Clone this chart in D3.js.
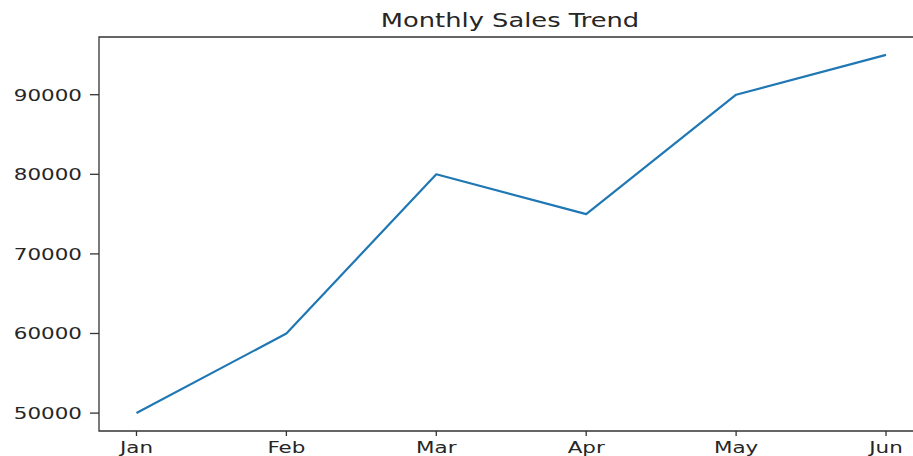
<!DOCTYPE html>
<html>
<head>
<meta charset="utf-8">
<script src="https://cdn.jsdelivr.net/npm/d3@7"></script>
<style>
  body { margin: 0; background: #fff; }
  svg { display: block; }
  text { font-family: "DejaVu Sans", sans-serif; fill: #262626; }
</style>
</head>
<body>
<div class="chart"></div>
<script>
var months = ["Jan", "Feb", "Mar", "Apr", "May", "Jun"];
var sales = [50000, 60000, 80000, 75000, 90000, 95000];
var yTicks = [50000, 60000, 70000, 80000, 90000];

var width = 913, height = 456;
var sx = 1.3; // picture is stretched sideways
var plotLeft = 99, plotTop = 37, plotBottom = 431;

var svg = d3.select('.chart')
    .append("svg")
    .attr("width", width)
    .attr("height", height);

var x = d3.scaleLinear()
    .domain([-0.25, 5.25])
    .range([plotLeft, 923.5]);

var y = d3.scaleLinear()
    .domain([47750, 97250])
    .range([plotBottom, plotTop]);

// spines
svg.append("path")
    .attr("d", "M" + x.range()[1] + "," + plotTop + "H" + plotLeft + "V" + plotBottom + "H" + x.range()[1])
    .attr("fill", "none")
    .attr("stroke", "#333")
    .attr("stroke-width", 1.3);

// y ticks
var yg = svg.append("g");
yTicks.forEach(function (t) {
    yg.append("line")
        .attr("x1", plotLeft - 9).attr("x2", plotLeft)
        .attr("y1", y(t)).attr("y2", y(t))
        .attr("stroke", "#333").attr("stroke-width", 1.3);
    yg.append("text")
        .attr("transform", "translate(" + (plotLeft - 17) + "," + y(t) + ") scale(" + sx + ",1)")
        .attr("text-anchor", "end")
        .attr("dy", "0.36em")
        .attr("font-size", 16.5)
        .text(t);
});

// x ticks
var xg = svg.append("g");
months.forEach(function (m, i) {
    xg.append("line")
        .attr("x1", x(i)).attr("x2", x(i))
        .attr("y1", plotBottom).attr("y2", plotBottom + 5)
        .attr("stroke", "#333").attr("stroke-width", 1.3);
    xg.append("text")
        .attr("transform", "translate(" + x(i) + "," + (plotBottom + 22) + ") scale(" + sx + ",1)")
        .attr("text-anchor", "middle")
        .attr("font-size", 16.5)
        .text(m);
});

// line
var line = d3.line()
    .x(function (d, i) { return x(i); })
    .y(function (d) { return y(d); });

svg.append("path")
    .datum(sales)
    .attr("d", line)
    .attr("fill", "none")
    .attr("stroke", "#1f77b4")
    .attr("stroke-width", 2.2)
    .attr("stroke-linejoin", "round");

// title
svg.append("text")
    .attr("transform", "translate(" + 510 + "," + 27 + ") scale(" + sx + ",1)")
    .attr("text-anchor", "middle")
    .attr("font-size", 19.8)
    .text("Monthly Sales Trend");
</script>
</body>
</html>
